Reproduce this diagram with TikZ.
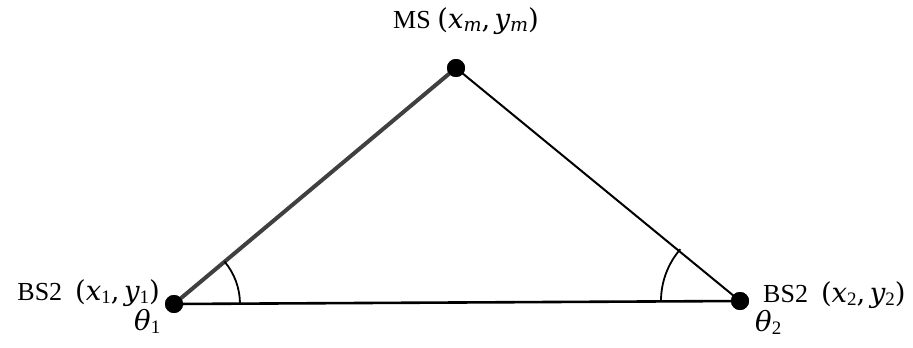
\documentclass[tikz,border=0pt]{standalone}
\usepackage{fontspec}
\setmainfont{Liberation Serif}
\newfontfamily\mfont{DejaVu Serif}
\usetikzlibrary{calc}
\newcommand{\mysb}[1]{\raisebox{-0.3ex}{\fontsize{19}{20}\selectfont #1}}
\newcommand{\mv}[1]{{\fontsize{27.5}{30}\mfont\itshape #1}}
\newcommand{\mpar}[1]{{\fontsize{27.5}{30}\mfont #1}}
\begin{document}
\begin{tikzpicture}[x=1pt,y=-1pt,
  dot/.style={circle,fill=black,inner sep=0pt,minimum size=18pt},
  lbl/.style={font=\fontsize{26}{30}\selectfont,inner sep=0pt},
  edge/.style={line width=2pt}]
\useasboundingbox (0,0) rectangle (913,348);
\node[dot] (b1) at (174,304) {};
\node[dot] (m) at (456,68) {};
\node[dot] (b2) at (740,301) {};
\draw[line width=4pt,black!75] (b1.center) -- (m.center);
\draw[edge] (m.center) -- (b2.center);
\draw[line width=2.6pt] (b1.center) -- (b2.center);
\node[dot] at (b1) {};
\node[dot] at (m) {};
\node[dot] at (b2) {};
\draw[line width=1.8pt] ($(b1.center)+(66,0)$) arc[start angle=0,end angle=-40,radius=66];
\draw[line width=1.8pt] ($(b2.center)+(-79,0)$) arc[start angle=180,end angle=221,radius=79];
\node[lbl,anchor=base east] (l1) at (160,300) {BS2\ \ \mpar{(}\mv{x}\mysb{1}\mpar{,}\,\mv{y}\mysb{1}\mpar{)}};
\node[lbl,anchor=base west] (t1) at (134,330) {\mv{θ}\mysb{1}};
\node[lbl,anchor=base west] (l2) at (763,302) {BS2\ \ \mpar{(}\mv{x}\mysb{2}\mpar{,}\,\mv{y}\mysb{2}\mpar{)}};
\node[lbl,anchor=base west] (t2) at (755,331) {\mv{θ}\mysb{2}};
\node[lbl,anchor=base west] (lm) at (393,28) {MS \mpar{(}\mv{x}\mysb{\mfont\itshape m}\mpar{,}\,\mv{y}\mysb{\mfont\itshape m}\mpar{)}};
\end{tikzpicture}
\end{document}
